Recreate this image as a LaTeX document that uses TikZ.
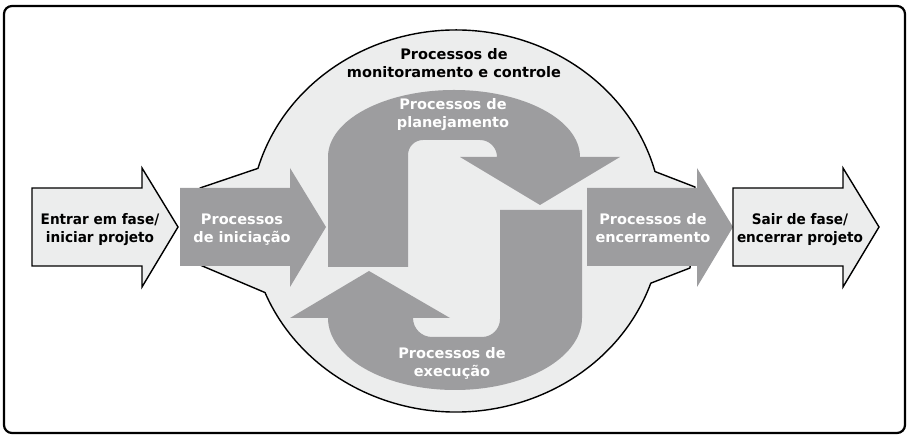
\documentclass[tikz,border=0pt]{standalone}
\usepackage{fontspec}
\setmainfont{DejaVu Sans}
\newfontfamily\edgefont{DejaVu Sans}[FakeStretch=0.94]
\usetikzlibrary{calc}

\definecolor{procgray}{RGB}{157,157,159}
\definecolor{ringgray}{RGB}{236,237,237}

\begin{document}
\begin{tikzpicture}[
    x=1pt, y=1pt,
    outline/.style={
        draw=black,
        line width=1.4pt,
        line join=round
    },
    ring/.style={
        fill=ringgray,
        outline
    },
    procshape/.style={
        fill=procgray
    },
    edgeshape/.style={
        fill=ringgray,
        outline,
        line join=miter
    },
    darktext/.style={
        font=\fontsize{14.5}{18}\selectfont\bfseries,
        align=center,
        text=black
    },
    lighttext/.style={
        darktext,
        text=white
    },
    edgetext/.style={
        darktext,
        font=\fontsize{14.5}{18}\selectfont\edgefont\bfseries
    }
]
\useasboundingbox (0,0) rectangle (910,438);

% Frame
\draw [line width=2.2pt, rounded corners=8pt] (4,5) rectangle (905,432);

% Monitoring ring with its two tails
\coordinate (ringc) at (456,217);
\path [ring] (200,250) -- ($(ringc)+(164:206pt and 191pt)$)
    arc[start angle=164, end angle=15, x radius=206pt, y radius=191pt]
    -- (695,251) -- (690,170) -- ($(ringc)+(-19:206pt and 191pt)$)
    arc[start angle=-19, end angle=-158, x radius=206pt, y radius=191pt]
    -- (200,173) -- cycle;

% Straight arrows
\foreach \x/\sty in {32/edgeshape, 180/procshape, 587/procshape, 733/edgeshape}
    \path [\sty] (\x,250) -- ++(110,0) -- ++(0,20) -- (\x+146,211)
        -- (\x+110,151) -- ++(0,21) -- (\x,172) -- cycle;

% Planning loop
\path [procshape] (328,171) -- (328,281)
    arc[start angle=180, end angle=0, x radius=126pt, y radius=67pt]
    -- (620,281) -- (540,233) -- (460,281) -- (497,281)
    arc[start angle=0, end angle=90, radius=17pt] -- (423,298)
    arc[start angle=90, end angle=180, radius=15pt] -- (408,171) -- cycle;

% Execution loop
\path [procshape] (582,228) -- (582,120)
    arc[start angle=0, end angle=-180, x radius=127pt, y radius=72pt]
    -- (290,120) -- (369,167) -- (450,120) -- (413,120)
    arc[start angle=180, end angle=270, radius=19pt] -- (482,101)
    arc[start angle=270, end angle=360, radius=18pt] -- (500,228) -- cycle;

% Labels
\node [darktext] (monitor) at (454,375) {Processos de\\monitoramento e controle};
\node [lighttext] (planning) at (453,323) {Processos de\\planejamento};
\node [lighttext] (execution) at (452,75) {Processos de\\execução};
\node [edgetext] (enter) at (100,208.5) {Entrar em fase/\\iniciar projeto};
\node [lighttext] (initiation) at (242,208.5) {Processos\\de iniciação};
\node [lighttext] (closing) at (653,210) {Processos de\\encerramento};
\node [edgetext] (leave) at (800,208.5) {Sair de fase/\\encerrar projeto};

\end{tikzpicture}
\end{document}
